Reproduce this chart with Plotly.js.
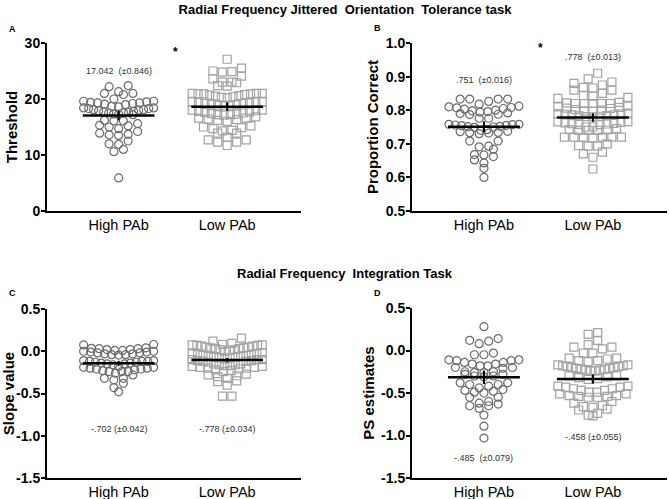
<!DOCTYPE html>
<html><head><meta charset="utf-8">
<script src="https://cdn.plot.ly/plotly-3.0.1.min.js"></script>
<style>html,body{margin:0;padding:0;background:#fff}#chart{width:669px;height:499px}</style>
</head><body><div id="chart"></div>
<script>
const W = 669, H = 499;
const groupLabels = ['High PAb', 'Low PAb'];
const groupPos = [0, 1];

// Panel A: Threshold
const threshHigh = [22.2,22.4, 21.0,20.8,21.0,21.3, 19.6,19.4,19.3,19.2,19.0,19.1,19.3,19.5,19.6,20.0,
  18.4,18.3,18.1,18.0,17.8,17.6,17.5,17.3,17.2,17.3,17.5,17.7,17.9,18.1,18.3,18.4, 18.6,18.7,
  16.1,16.1,15.3,15.0,14.7,15.2,15.6,16.2, 13.9,13.7,13.5,13.6,14.2, 12.5,12.0,11.9, 11.0,10.6, 5.9];
const threshLow = [27.1, 25.5,25.0,24.8,24.9, 24.1,23.6,23.0,23.0,22.9,22.4,22.3,
  21.0,21.0,20.9,20.9,20.7,20.5,20.3,20.2,20.4,20.6,20.8,20.9,21.0,
  19.5,19.5,19.3,19.2,19.0,18.9,18.8,18.9,19.1,19.2,19.4,19.5,
  18.0,17.9,17.7,17.5,17.3,17.2,17.1,17.2,17.4,17.6,17.8,18.0,
  16.8,16.6,16.4,16.2,16.0,16.3,16.6, 15.2,14.9,14.4,13.9,13.9,14.3,14.7,15.0,
  13.2,12.7,12.3,11.7,12.3,12.7];
const threshMean = [17.042, 18.636];
const threshSem = [0.846, 0.747];

// Panel B: Proportion correct
const propHigh = [0.833,0.833,0.818,0.826,0.833,0.833,
  0.810,0.808,0.805,0.800,0.796,0.792,0.788,0.787,0.790,0.794,0.798,0.803,0.807,0.812,
  0.776,0.776, 0.758,0.757,0.755,0.752,0.750,0.749,0.751,0.754,0.756,0.758,
  0.742,0.737,0.734,0.732,0.730,0.733,0.736,0.740,
  0.708,0.708,0.693,0.684,0.691, 0.662,0.652,0.643,0.667,0.668,0.627, 0.600];
const propLow = [0.910, 0.893,0.880,0.875,0.884, 0.866,0.860,0.860,0.868, 0.850,0.842,0.838,0.843,0.835,
  0.822,0.820,0.820,0.820,0.820,0.820,0.823,
  0.812,0.808,0.805,0.800,0.797,0.798,0.802,0.806,0.810,
  0.790,0.788,0.786,0.784,0.782,0.780,0.781,0.783,0.786,0.789,0.791,
  0.765,0.762,0.760,0.758,0.757,0.759,0.761,0.764,0.766,
  0.750,0.742,0.740,0.740,0.740,0.741,0.745,0.750,
  0.720,0.720,0.720,0.720,0.720,0.718,0.720, 0.695,0.693,0.693,0.700, 0.670,0.660,0.675, 0.625];
const propMean = [0.751, 0.778];
const propSem = [0.016, 0.013];

// Panel C: Slope value
const slopeHigh = [0.075,0.04,0.08,
  0.03,0.02,0.01,0.00,-0.01,-0.02,-0.03,-0.04,-0.045,-0.04,-0.03,-0.02,-0.01,0.0,0.01,0.02,0.03,0.035,
  -0.11,-0.12,-0.12,-0.13,-0.14,-0.15,-0.16,-0.15,-0.14,-0.13,-0.12,-0.11,
  -0.18,-0.19,-0.20,-0.21,-0.22,-0.21,-0.20,-0.19,
  -0.24,-0.24,-0.28,-0.26,-0.24,-0.23, -0.34,-0.32,-0.32,-0.38, -0.48,-0.43];
const slopeLow = [0.155,0.12,0.094,
  0.08,0.075,0.07,0.06,0.05,0.04,0.03,0.02,0.015,0.02,0.03,0.04,0.05,0.06,0.07,0.075,
  0.0,-0.02,-0.03,-0.04,-0.05,-0.06,-0.07,-0.08,-0.08,-0.07,-0.06,-0.05,-0.04,-0.03,
  -0.09,-0.10,-0.10,-0.11,-0.12,-0.13,-0.12,-0.11,-0.10,
  -0.15,-0.16,-0.17,-0.18,-0.19,-0.20,-0.20,-0.19,-0.18,-0.17,-0.16,-0.15,-0.21,-0.22,
  -0.27,-0.28,-0.30,-0.36,-0.40,-0.35,-0.32,-0.29,-0.23,-0.24, -0.53,-0.53];
const slopeMean = [-0.143, -0.105];
const slopeSem = [0.03, 0.025];

// Panel D: PS estimates
const psHigh = [0.28, 0.12,0.08,0.11,0.14, -0.03,-0.05,-0.05,
  -0.11,-0.12,-0.14,-0.16,-0.18,-0.20,-0.21,-0.20,-0.18,-0.16,-0.14,-0.12,-0.11,
  -0.25,-0.26,-0.28,-0.30,-0.31,-0.30,-0.28,-0.26,-0.25,
  -0.38,-0.40,-0.42,-0.44,-0.40,-0.38, -0.46,-0.48,-0.50,-0.49,-0.47,
  -0.55,-0.55,-0.60,-0.62,-0.65,-0.63,-0.68,-0.65, -0.76,-0.89,-1.03];
const psLow = [0.21,0.19, 0.12,0.04,0.02,0.04,0.07, -0.03,-0.03,
  -0.09,-0.12,-0.10,-0.13,-0.12,-0.09,
  -0.17,-0.18,-0.19,-0.20,-0.21,-0.22,-0.23,-0.24,-0.24,-0.23,-0.22,-0.21,-0.20,-0.19,-0.18,-0.17,
  -0.30,-0.32,-0.34,-0.33,-0.31,-0.30,
  -0.42,-0.43,-0.45,-0.47,-0.49,-0.51,-0.53,-0.54,-0.54,-0.53,-0.51,-0.49,-0.47,-0.45,-0.43,-0.42,
  -0.55,-0.55, -0.62,-0.65,-0.67,-0.70,-0.69,-0.66,-0.60, -0.74,-0.77,-0.76];
const psMean = [-0.315, -0.335];
const psSem = [0.079, 0.055];

// Reported statistics text
const statTextA = ['17.042  (\u00b10.846)', '18.636 (\u00b10.747)'];
const statTextB = ['.751  (\u00b10.016)', '.778  (\u00b10.013)'];
const statTextC = ['-.702 (\u00b10.042)', '-.778 (\u00b10.034)'];
const statTextD = ['-.485  (\u00b10.079)', '-.458 (\u00b10.055)'];

const FONT = 'Liberation Sans, Arial, Helvetica, sans-serif';
const xRange = [-0.66, 1.68];

const panels = [
  {letter:'A', high:threshHigh, low:threshLow, mean:threshMean, sem:threshSem, yr:[0,30],
   tv:[0,10,20,30], tt:['0','10','20','30'], title:'Threshold', box:[47,301,43,211],
   stat:statTextA, statY:[25.0,30.2], star:[0.52,28.4]},
  {letter:'B', high:propHigh, low:propLow, mean:propMean, sem:propSem, yr:[0.5,1.0],
   tv:[0.5,0.6,0.7,0.8,0.9,1.0], tt:['0.5','0.6','0.7','0.8','0.9','1.0'], title:'Proportion Correct', box:[412,667,43,211],
   stat:statTextB, statY:[0.890,0.958], star:[0.52,0.985]},
  {letter:'C', high:slopeHigh, low:slopeLow, mean:slopeMean, sem:slopeSem, yr:[-1.5,0.5],
   tv:[-1.5,-1.0,-0.5,0.0,0.5], tt:['-1.5','-1.0','-0.5','0.0','0.5'], title:'Slope value', box:[47,301,309,478],
   stat:statTextC, statY:[-0.92,-0.92], star:null},
  {letter:'D', high:psHigh, low:psLow, mean:psMean, sem:psSem, yr:[-1.5,0.5],
   tv:[-1.5,-1.0,-0.5,0.0,0.5], tt:['-1.5','-1.0','-0.5','0.0','0.5'], title:'PS estimates', box:[412,667,308,478],
   stat:statTextD, statY:[-1.265,-1.018], star:null}
];

// Prism-like scatter-dot layout: values grouped into rows, each row spread symmetrically,
// lowest value of a row in the centre, capped to the width of the mean line.
function rowLayout(vals, pxY, binPx, spacing, maxHalf) {
  const idx = vals.map((v,i)=>i).sort((a,b)=>vals[b]-vals[a]);
  const off = new Array(vals.length).fill(0);
  let k = 0;
  while (k < idx.length) {
    const top = vals[idx[k]];
    const bin = [];
    while (k < idx.length && (top - vals[idx[k]])*pxY <= binPx) { bin.push(idx[k]); k++; }
    const n = bin.length;
    const s = n > 1 ? Math.min(spacing, 2*maxHalf/(n-1)) : 0;
    const pos = [];
    for (let j = 0; j < n; j++) pos.push((j - (n-1)/2)*s);
    pos.sort((a,b)=> (Math.abs(a)-Math.abs(b)) || (a-b));
    bin.sort((a,b)=>vals[a]-vals[b]);
    bin.forEach((i, j) => { off[i] = pos[j]; });
  }
  return off;
}

const traces = [];
const layout = {
  width: W, height: H, margin:{l:0,r:0,t:0,b:0}, showlegend:false,
  paper_bgcolor:'#fff', plot_bgcolor:'#fff',
  font:{family:FONT, color:'#000'},
  title:{text:'Radial Frequency Jittered  Orientation  Tolerance task', x:345/W, xanchor:'center', y:1-9/H, yanchor:'middle',
    font:{family:FONT, size:13, weight:'bold', color:'#000'}},
  annotations: [
    {text:'Radial Frequency  Integration Task', xref:'paper', yref:'paper', x:345/W, y:1-273/H, xanchor:'center', yanchor:'middle',
     showarrow:false, font:{family:FONT, size:13, weight:'bold', color:'#000'}}
  ]
};
const letterPos = [[13,29],[377,28],[13,293],[377,293]];

panels.forEach((P, k) => {
  const n = k === 0 ? '' : String(k+1);
  const xa = 'x'+n, ya = 'y'+n;
  const [x0,x1,yTop,yBot] = P.box;
  const pxX = (x1-x0)/(xRange[1]-xRange[0]);
  const pxY = (yBot-yTop)/(P.yr[1]-P.yr[0]);
  layout['xaxis'+n] = {domain:[x0/W, x1/W], range:xRange, anchor:ya, showline:true, linewidth:2, linecolor:'#000',
    ticks:'', tickvals:groupPos, ticktext:groupLabels, tickfont:{family:FONT, size:14.5, color:'#000'},
    showgrid:false, zeroline:false, fixedrange:true};
  layout['yaxis'+n] = {domain:[1-yBot/H, 1-yTop/H], range:P.yr, anchor:xa, showline:true, linewidth:2, linecolor:'#000',
    ticks:'outside', ticklen:4, tickwidth:2, tickcolor:'#000', tickvals:P.tv, ticktext:P.tt, ticklabelstandoff:-2,
    tickfont:{family:FONT, size:14, weight:'bold', color:'#000'}, showgrid:false, zeroline:false,
    title:{text:P.title, standoff:3, font:{family:FONT, size:15, weight:'bold', color:'#000'}}};
  const groups = [P.high, P.low];
  const styles = [{symbol:'circle-open', color:'#6b6b6b', size:8}, {symbol:'square-open', color:'#a3a3a3', size:8}];
  groups.forEach((vals, g) => {
    const off = rowLayout(vals, pxY, 6.5, 9.5, 35);
    traces.push({type:'scatter', mode:'markers', xaxis:xa, yaxis:ya, cliponaxis:false,
      x: vals.map((v,i)=>groupPos[g] + off[i]/pxX), y: vals, hoverinfo:'y',
      marker:{symbol:styles[g].symbol, size:styles[g].size, color:styles[g].color, line:{width:1.2, color:styles[g].color}}});
  });
  groups.forEach((vals, g) => {
    traces.push({type:'scatter', mode:'lines', xaxis:xa, yaxis:ya, cliponaxis:false,
      x:[groupPos[g]-0.33, groupPos[g]+0.33], y:[P.mean[g], P.mean[g]], line:{color:'#000', width:2.5}, hoverinfo:'skip'});
    traces.push({type:'scatter', mode:'lines', xaxis:xa, yaxis:ya, cliponaxis:false,
      x:[groupPos[g], groupPos[g]], y:[P.mean[g]-P.sem[g], P.mean[g]+P.sem[g]], line:{color:'#000', width:2}, hoverinfo:'skip'});
    layout.annotations.push({text:P.stat[g], xref:xa, yref:ya, x:groupPos[g], y:P.statY[g], xanchor:'center', yanchor:'middle',
      showarrow:false, font:{family:FONT, size:9, color:'#333'}});
  });
  if (P.star) layout.annotations.push({text:'*', xref:xa, yref:ya, x:P.star[0], y:P.star[1], xanchor:'center', yanchor:'middle',
    showarrow:false, font:{family:FONT, size:12, weight:'bold', color:'#000'}});
  layout.annotations.push({text:P.letter, xref:'paper', yref:'paper', x:letterPos[k][0]/W, y:1-letterPos[k][1]/H,
    xanchor:'center', yanchor:'middle', showarrow:false, font:{family:FONT, size:9, weight:'bold', color:'#000'}});
});

Plotly.newPlot('chart', traces, layout, {displayModeBar:false, staticPlot:true});
</script></body></html>
